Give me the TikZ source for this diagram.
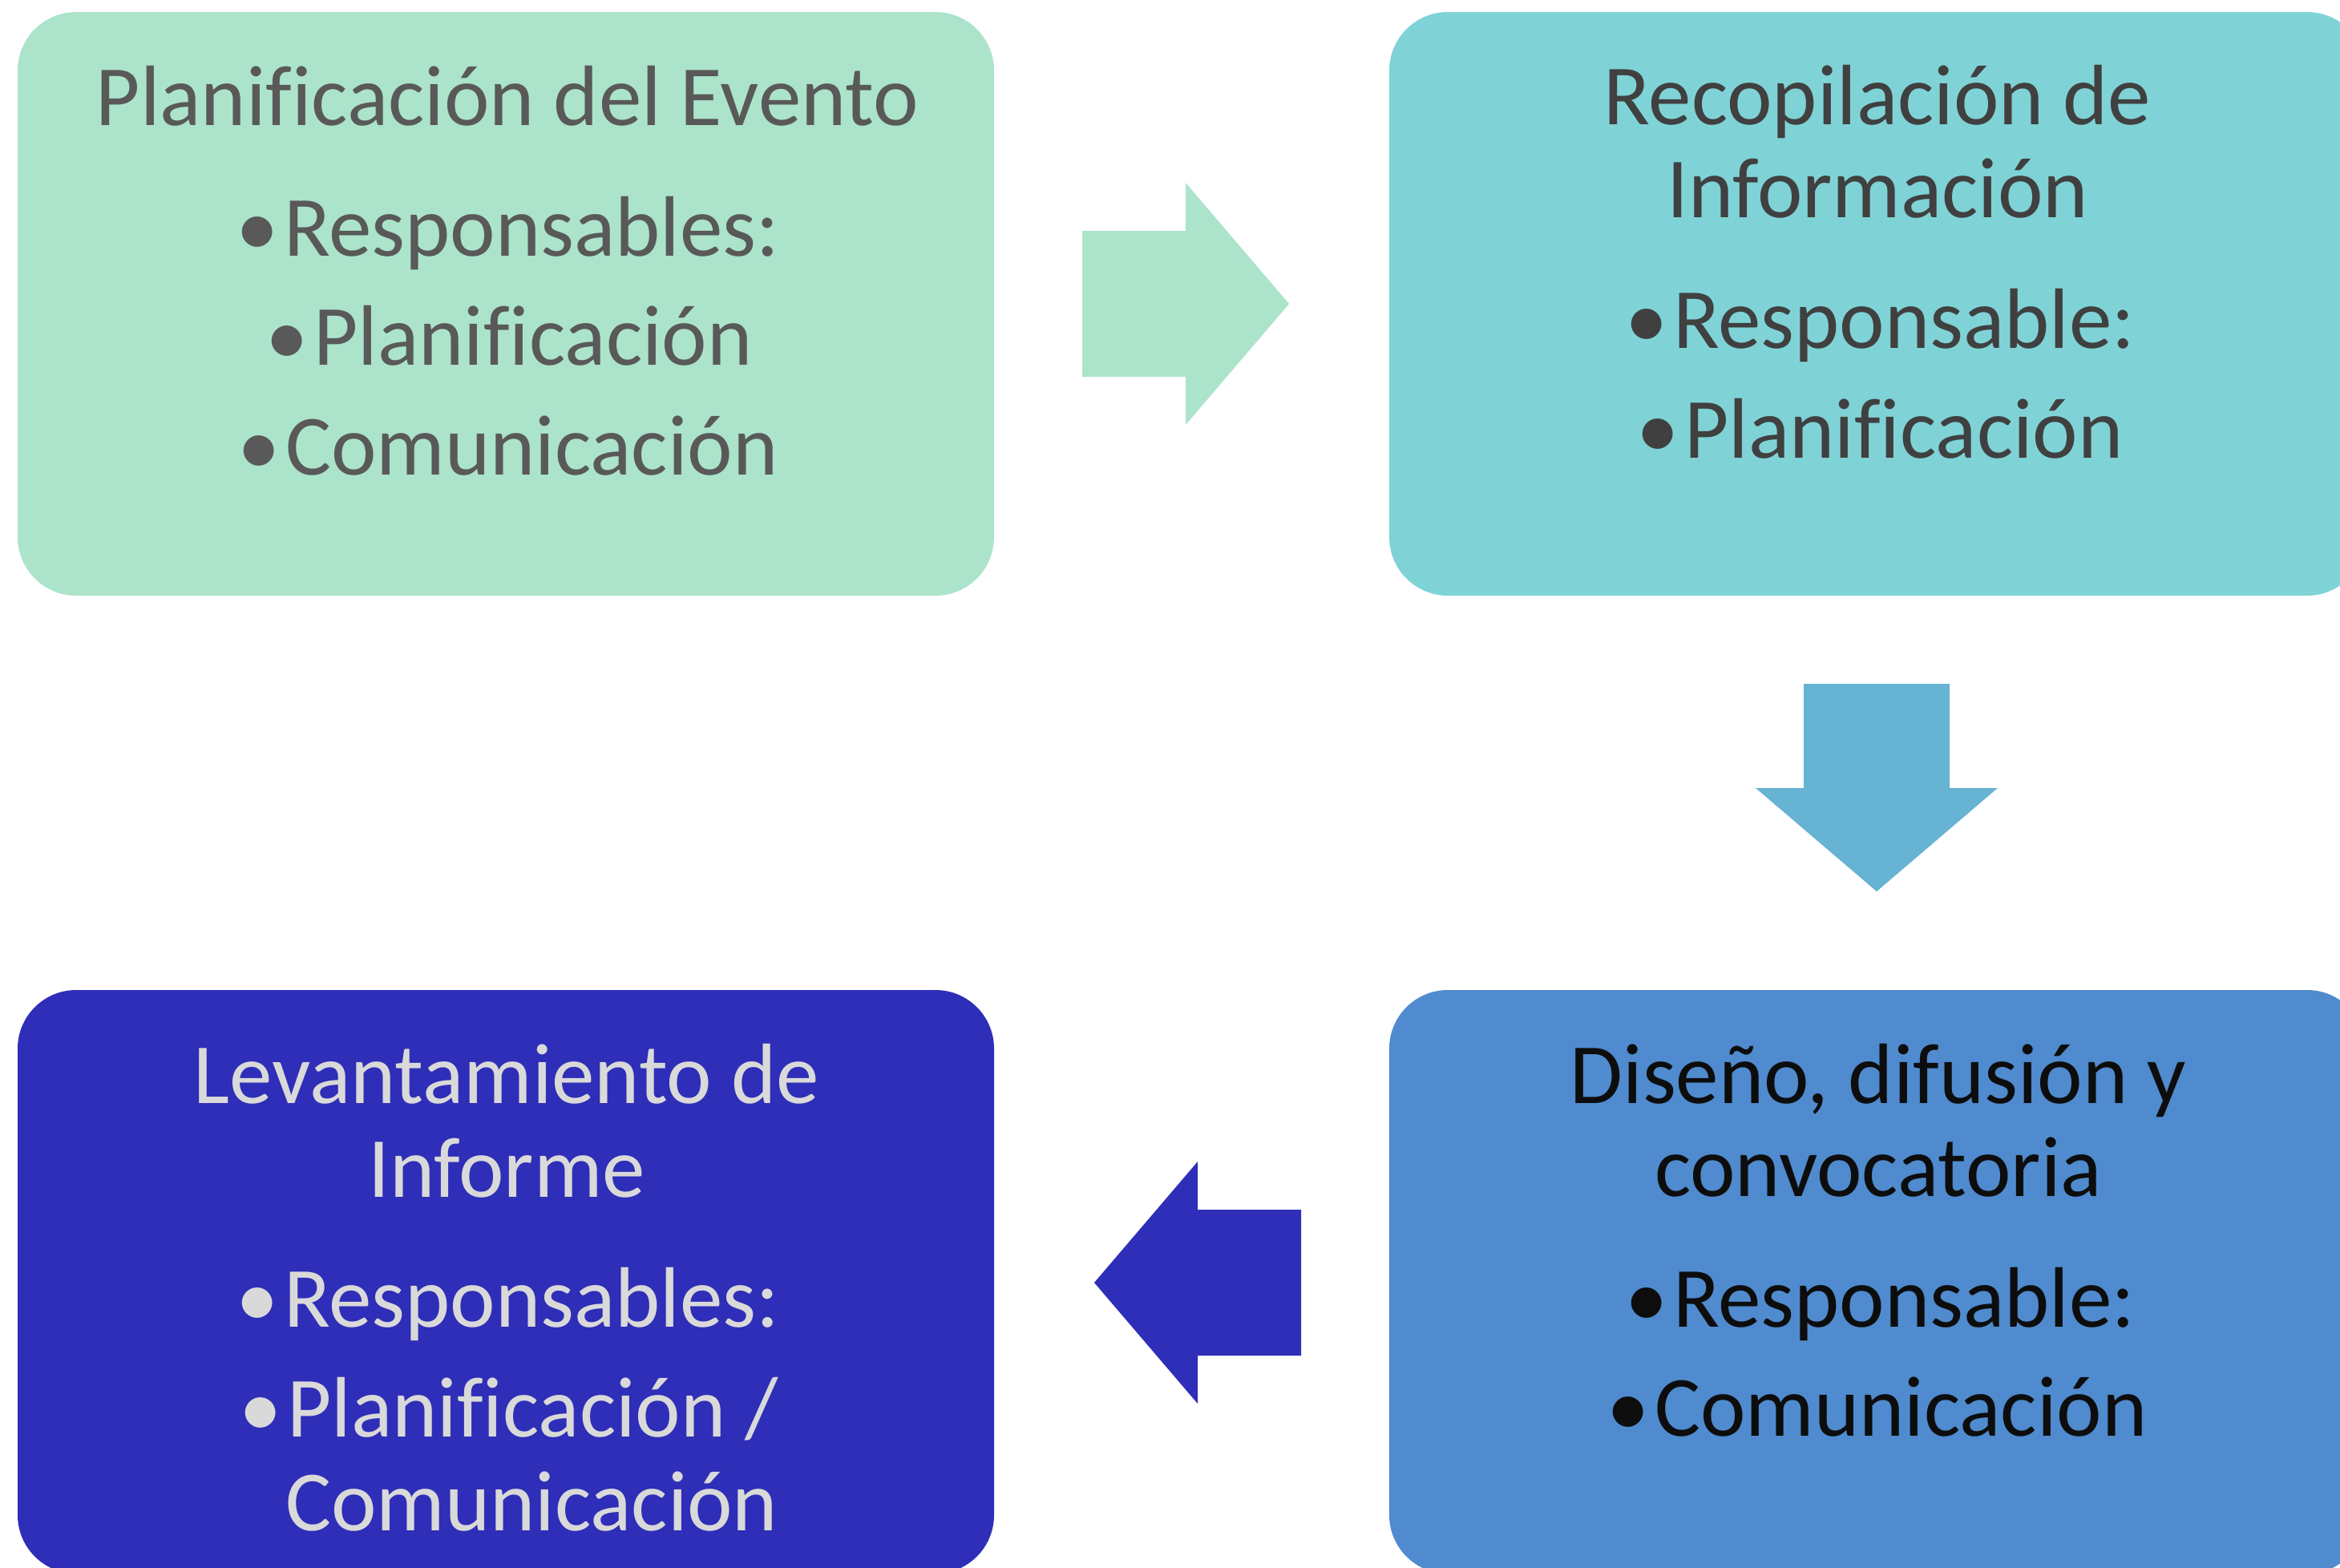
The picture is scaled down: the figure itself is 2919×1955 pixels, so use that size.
\documentclass[tikz,border=0pt]{standalone}
\usepackage{fontspec}
\setmainfont{Carlito}[Ligatures=NoCommon]
\definecolor{cMint}{RGB}{172,227,203}
\definecolor{cTeal}{RGB}{127,211,215}
\definecolor{cSky}{RGB}{102,179,212}
\definecolor{cBlue}{RGB}{79,139,206}
\definecolor{cIndigo}{RGB}{46,46,184}
\definecolor{tGray}{RGB}{89,89,89}
\definecolor{tDark}{RGB}{64,64,64}
\definecolor{tBlack}{RGB}{13,13,13}
\definecolor{tLight}{RGB}{217,217,217}
\begin{document}
\begin{tikzpicture}[x=0.5pt,y=-0.5pt,
  box/.style={rectangle, rounded corners=36.5pt, draw=none, minimum width=609pt, minimum height=364pt, inner sep=0pt},
  txt/.style={inner sep=0pt, font=\fontsize{53.5}{60}\selectfont},
  ttl/.style={txt, anchor=base},
  bul/.style={txt, anchor=base west}]
\useasboundingbox (0,0) rectangle (2919,1955);
\clip (0,0) rectangle (2919,1955);
\newcommand{\bl}{\llap{•\hspace{3.5pt}}}
% boxes
\node[box, fill=cMint] (b1) at (631,379) {};
\node[box, fill=cTeal] (b2) at (2342,379) {};
\node[box, fill=cIndigo] (b4) at (631,1599) {};
\node[box, fill=cBlue] (b3) at (2342,1599) {};
% arrows
\fill[cMint] (1350,288) -- (1479,288) -- (1479,228) -- (1608,379) -- (1479,530) -- (1479,470) -- (1350,470) -- cycle;
\fill[cSky] (2250,853) -- (2432,853) -- (2432,983) -- (2492,983) -- (2341,1112) -- (2190,983) -- (2250,983) -- cycle;
\fill[cIndigo] (1623,1509) -- (1494,1509) -- (1494,1449) -- (1365,1600) -- (1494,1751) -- (1494,1691) -- (1623,1691) -- cycle;
% box 1
\node[ttl, text=tGray] (t1) at (633,156) {Planificación del Evento};
\node[bul, text=tGray] (t1a) at (354,319) {\bl Responsables:};
\node[bul, text=tGray] (t1b) at (391,455) {\bl Planificación};
\node[bul, text=tGray] (t1c) at (356,592) {\bl Comunicación};
% box 2
\node[ttl, text=tDark] (t2) at (2342,155) {Recopilación de};
\node[ttl, text=tDark] (t2x) at (2342,271) {Información};
\node[bul, text=tDark] (t2a) at (2087,434) {\bl Responsable:};
\node[bul, text=tDark] (t2b) at (2101,571) {\bl Planificación};
% box 3
\node[ttl, text=tBlack] (t3) at (2343,1376) {Diseño, difusión y};
\node[ttl, text=tBlack] (t3x) at (2343,1492) {convocatoria};
\node[bul, text=tBlack] (t3a) at (2087,1655) {\bl Responsable:};
\node[bul, text=tBlack] (t3b) at (2064,1791) {\bl Comunicación};
% box 4
\node[ttl, text=tLight] (t4) at (632,1376) {Levantamiento de};
\node[ttl, text=tLight] (t4x) at (632,1493) {Informe};
\node[bul, text=tLight] (t4a) at (354,1655) {\bl Responsables:};
\node[bul, text=tLight] (t4b) at (358,1792) {\bl Planificación /};
\node[bul, text=tLight] (t4c) at (356,1909) {Comunicación};
\end{tikzpicture}
\end{document}
